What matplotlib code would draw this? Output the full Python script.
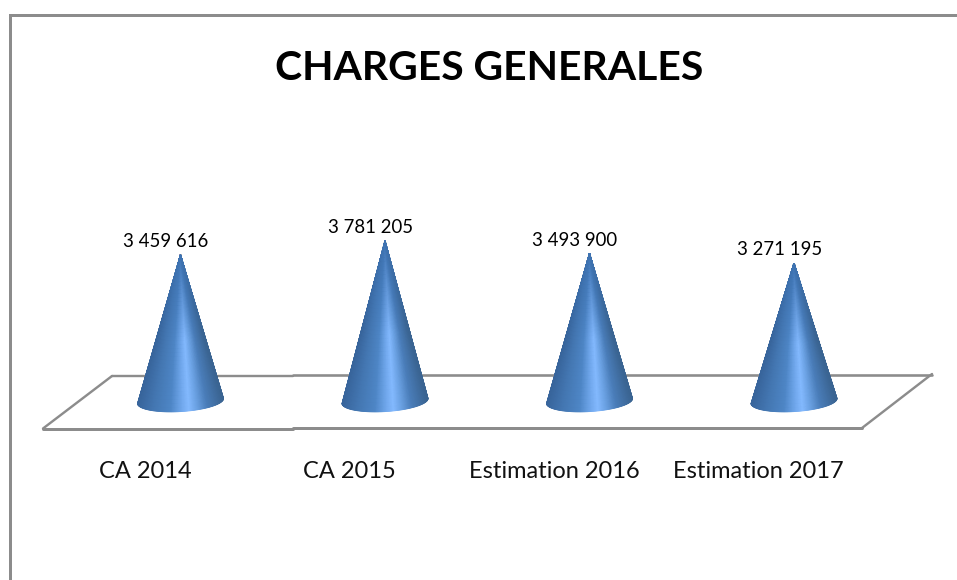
import numpy as np
import matplotlib
matplotlib.use("Agg")
import matplotlib.pyplot as plt
from matplotlib.lines import Line2D
from matplotlib.colors import LinearSegmentedColormap, to_rgb

categories = ["CA 2014", "CA 2015", "Estimation 2016", "Estimation 2017"]
values = [3459616, 3781205, 3493900, 3271195]
value_labels = ["3 459 616", "3 781 205", "3 493 900", "3 271 195"]
title = "CHARGES GENERALES"

W, H = 957, 580
X0_PX, DX_PX = 180.5, 204.5      # pixel x of category 0, pixels per category
Y0_PX, SY_PX = 405.5, 4.35e-5    # pixel y of value 0, pixels per unit
GRAY = "#8c8c8c"
FONT = "Lato"

fig = plt.figure(figsize=(W / 100, H / 100), dpi=100, facecolor="white")
ax = fig.add_axes([0, 0, 1, 1])
ax.set_xlim((0 - X0_PX) / DX_PX, (W - X0_PX) / DX_PX)
ax.set_ylim((Y0_PX - H) / SY_PX, Y0_PX / SY_PX)
ax.axis("off")


def fig_line(xs, ys, lw):
    ax.add_line(Line2D([x / W for x in xs], [1 - y / H for y in ys],
                       transform=fig.transFigure, clip_on=False,
                       color=GRAY, lw=lw * 0.72, solid_capstyle="round",
                       solid_joinstyle="miter", zorder=1))


# outer frame
fig_line([9.5, 9.5, W + 2], [H + 2, 14.5, 14.5], 3)
# floor
fig_line([43, 293], [428.7, 428.7], 3)
fig_line([293, 862], [428, 428], 3)
fig_line([43, 112], [428.5, 376], 2.4)
fig_line([112, 293], [375.8, 375.8], 2.4)
fig_line([293, 932], [375, 375], 2.6)
fig_line([862, 932], [428, 374], 2.4)

grad = LinearSegmentedColormap.from_list("cone", [
    (0.00, "#38659c"), (0.18, "#4477b2"), (0.38, "#4e86c6"),
    (0.52, "#72a9ee"), (0.60, "#84baff"), (0.68, "#6fa6e8"),
    (0.82, "#4a7db9"), (1.00, "#3a6492")])
top_color = np.array(to_rgb("#3f74b3"))

A_PX, B_PX, TILT = 43.0, 10.5, np.radians(3.5)   # base ellipse shape
BASE_DY_PX = -4.5                                # ellipse centre above value 0
t = np.linspace(np.pi, 0, 121)
ex = A_PX * np.cos(t) * np.cos(TILT) + B_PX * np.sin(t) * np.sin(TILT)
ey = -A_PX * np.cos(t) * np.sin(TILT) + B_PX * np.sin(t) * np.cos(TILT)
f = (ex - ex.min()) / (ex.max() - ex.min())
rgb_base = grad(f)[:, :3]
v = np.linspace(0, 1, 41)[:, None]

for i, val in enumerate(values):
    base_x = i + ex / DX_PX
    base_y = (-BASE_DY_PX - ey) / SY_PX
    X = i + (base_x - i) * v
    Y = val + (base_y - val) * v
    fade = np.clip(v / 0.55, 0, 1)[:, :, None]
    C = top_color[None, None, :] * (1 - fade) + rgb_base[None, :, :] * fade
    ax.pcolormesh(X, Y, C, shading="gouraud", zorder=3, antialiased=True)
    ax.annotate(value_labels[i], (i, val), xytext=(-14.5, 13.5), textcoords="offset pixels",
                ha="center", va="center", fontsize=13.4, family=FONT, color="black", zorder=4)
    ax.annotate(categories[i], (i, 0), xytext=(-35.5, -66), textcoords="offset pixels",
                ha="center", va="center", fontsize=17, family=FONT, color="#111111", zorder=4)

fig.text(489 / W, 1 - 68 / H, title, ha="center", va="center",
         fontsize=29.4, fontweight="bold", family=FONT, color="black")

fig.savefig("out.png", dpi=100, facecolor="white")
